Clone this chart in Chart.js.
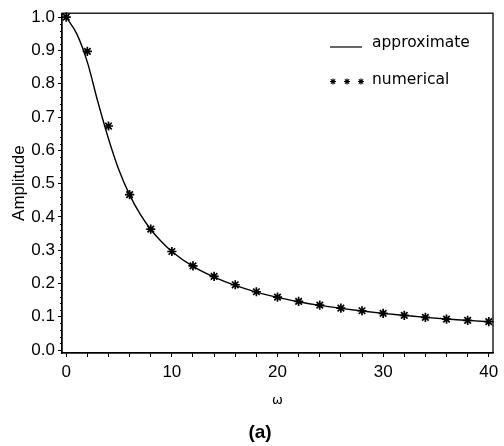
<!DOCTYPE html>
<html>
<head>
<meta charset="utf-8">
<script src="https://cdn.jsdelivr.net/npm/chart.js@4"></script>
<style>
  body { margin: 0; background: #fff; }
  #wrap { width: 504px; height: 446px; }
</style>
</head>
<body>
<div id="wrap"><canvas id="myChart" width="504" height="446"></canvas></div>
<script>
// approximate solution (solid curve)
const approxOmega = [0, 1, 2, 3, 4, 5, 6, 7, 8, 9, 10, 12, 14, 16, 18, 20, 22, 24, 26, 28, 30, 32, 34, 36, 38, 40];
const approxAmp = [1.0, 0.950, 0.865, 0.745, 0.635, 0.54, 0.466, 0.408, 0.362, 0.326, 0.296, 0.251, 0.219, 0.194, 0.174, 0.158, 0.145, 0.134, 0.125, 0.117, 0.110, 0.104, 0.098, 0.093, 0.089, 0.085];

// numerical solution (stars)
const numOmega = [0, 2, 4, 6, 8, 10, 12, 14, 16, 18, 20, 22, 24, 26, 28, 30, 32, 34, 36, 38, 40];
const numAmp = [1.0, 0.897, 0.673, 0.467, 0.363, 0.296, 0.253, 0.221, 0.196, 0.175, 0.159, 0.146, 0.135, 0.126, 0.118, 0.110, 0.104, 0.098, 0.093, 0.089, 0.085];

// tick labels
const xTicks = [0, 2, 4, 6, 8, 10, 12, 14, 16, 18, 20, 22, 24, 26, 28, 30, 32, 34, 36, 38, 40];
const yTicks = [0.0, 0.1, 0.2, 0.3, 0.4, 0.5, 0.6, 0.7, 0.8, 0.9, 1.0];
const panelLabel = "(a)";

const toXY = (xs, ys) => xs.map((x, i) => ({ x: x, y: ys[i] }));

// frame, minor y ticks, in-plot legend and panel label
const extras = {
  id: "extras",
  afterDraw(chart) {
    const { ctx, chartArea: a, scales } = chart;
    ctx.save();
    ctx.strokeStyle = "#000";
    ctx.lineWidth = 1.3;
    ctx.strokeRect(a.left, a.top, a.right - a.left, a.bottom - a.top);

    // minor ticks on the amplitude axis
    ctx.lineWidth = 1;
    ctx.beginPath();
    for (let v = 0; v <= 100; v += 2) {
      if (v % 10 === 0) continue;
      const py = Math.round(scales.y.getPixelForValue(v / 100)) + 0.5;
      ctx.moveTo(a.left - 2, py);
      ctx.lineTo(a.left, py);
    }
    ctx.stroke();

    // legend
    const sets = chart.data.datasets;
    ctx.fillStyle = "#000";
    ctx.font = "15.5px 'DejaVu Sans'";
    ctx.textBaseline = "middle";
    ctx.lineWidth = 1.2;
    ctx.beginPath();
    ctx.moveTo(330, 47);
    ctx.lineTo(362, 47);
    ctx.stroke();
    ctx.fillText(sets[0].label, 372, 43);
    [333, 347, 361].forEach(cx => {
      const r = 3;
      ctx.beginPath();
      for (let k = 0; k < 4; k++) {
        const ang = k * Math.PI / 4;
        ctx.moveTo(cx - r * Math.cos(ang), 81.5 - r * Math.sin(ang));
        ctx.lineTo(cx + r * Math.cos(ang), 81.5 + r * Math.sin(ang));
      }
      ctx.stroke();
    });
    ctx.fillText(sets[1].label, 372, 80);

    // panel label
    ctx.font = "bold 19px 'Liberation Sans'";
    ctx.textAlign = "center";
    ctx.fillText(panelLabel, 260, 433);
    ctx.restore();
  }
};

new Chart(document.getElementById("myChart").getContext("2d"), {
  type: "scatter",
  data: {
    datasets: [
      {
        label: "approximate",
        data: toXY(approxOmega, approxAmp),
        showLine: true,
        borderColor: "#000",
        borderWidth: 1.4,
        pointRadius: 0,
        cubicInterpolationMode: "monotone"
      },
      {
        label: "numerical",
        data: toXY(numOmega, numAmp),
        showLine: false,
        pointStyle: "star",
        pointRadius: 4.6,
        borderColor: "#000",
        backgroundColor: "#000",
        borderWidth: 1.7,
        clip: false
      }
    ]
  },
  options: {
    responsive: false,
    animation: false,
    layout: { padding: { top: 10, right: 11, left: 0, bottom: 23 } },
    plugins: {
      legend: { display: false },
      tooltip: { enabled: false }
    },
    scales: {
      x: {
        type: "linear",
        min: -0.4,
        max: 40.4,
        afterBuildTicks: s => { s.ticks = xTicks.map(v => ({ value: v })); },
        afterFit: s => { s.height = 70; },
        grid: { drawOnChartArea: false, tickLength: 4, tickColor: "#000", tickWidth: 1 },
        border: { color: "#000", width: 1.3 },
        ticks: {
          color: "#000",
          padding: 5,
          maxRotation: 0,
          autoSkip: false,
          font: { family: "'Liberation Sans'", size: 17 },
          callback: v => (v % 10 === 0 ? String(v) : "")
        },
        title: {
          display: true,
          text: "ω",
          color: "#000",
          font: { family: "'DejaVu Sans'", size: 13 },
          padding: { top: 0, bottom: 15 }
        }
      },
      y: {
        min: -0.009,
        max: 1.012,
        afterBuildTicks: s => { s.ticks = yTicks.map(v => ({ value: v })); },
        afterFit: s => { s.width = 62; },
        grid: { drawOnChartArea: false, tickLength: 4, tickColor: "#000", tickWidth: 1 },
        border: { color: "#000", width: 1.3 },
        ticks: {
          color: "#000",
          padding: 3,
          autoSkip: false,
          font: { family: "'Liberation Sans'", size: 17 },
          callback: v => v.toFixed(1)
        },
        title: {
          display: true,
          text: "Amplitude",
          color: "#000",
          font: { family: "'Liberation Sans'", size: 17 },
          padding: { top: 9, bottom: 0 }
        }
      }
    }
  },
  plugins: [extras]
});
</script>
</body>
</html>
